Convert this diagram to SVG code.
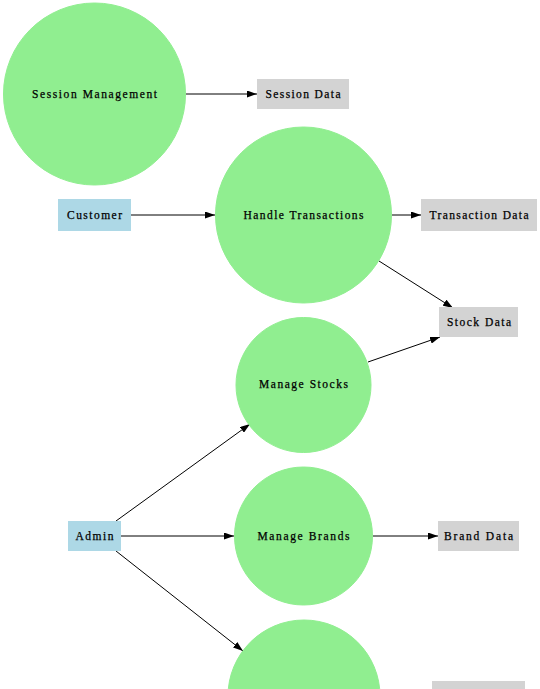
<svg xmlns="http://www.w3.org/2000/svg" width="540" height="689" viewBox="0 0 540 689">
<style>
.proc{fill:#90ee90;stroke:#90ee90}
.ent{fill:#add8e6;stroke:#add8e6}
.store{fill:#d3d3d3;stroke:#d3d3d3}
text{font-family:"Liberation Serif","Times New Roman",serif;font-size:11.5px;fill:#000;text-anchor:middle;stroke:#000;stroke-width:0.25}
.edge{stroke:#000;stroke-width:1;fill:none;marker-end:url(#ah)}
</style>
<defs>
<marker id="ah" viewBox="0 0 10 7" refX="10" refY="3.5" markerWidth="10" markerHeight="7" markerUnits="userSpaceOnUse" orient="auto">
<path d="M0,0 L10,3.5 L0,7 Z" fill="#000"/>
</marker>
</defs>
<rect width="540" height="689" fill="#fff"/>
<g id="edges">
<line class="edge" x1="186" y1="94" x2="257" y2="94"/>
<line class="edge" x1="131" y1="215" x2="215" y2="215"/>
<line class="edge" x1="392" y1="215" x2="421" y2="215"/>
<line class="edge" x1="379" y1="261" x2="453" y2="308"/>
<line class="edge" x1="368" y1="362" x2="440" y2="337"/>
<line class="edge" x1="116" y1="521" x2="250" y2="424"/>
<line class="edge" x1="121" y1="536" x2="234" y2="536"/>
<line class="edge" x1="373" y1="536" x2="438" y2="536"/>
<line class="edge" x1="116" y1="551" x2="243" y2="651"/>
</g>
<g id="session_management"><circle class="proc" cx="94.5" cy="94" r="91"/><text x="94.5" y="97.5" textLength="125" lengthAdjust="spacing">Session Management</text></g>
<g id="session_data"><rect class="store" x="257.5" y="79.5" width="91" height="29"/><text x="303" y="98" textLength="75" lengthAdjust="spacing">Session Data</text></g>
<g id="customer"><rect class="ent" x="58.5" y="199.5" width="72" height="31"/><text x="94.5" y="218.5" textLength="55" lengthAdjust="spacing">Customer</text></g>
<g id="handle_transactions"><circle class="proc" cx="303.5" cy="215" r="88"/><text x="303.5" y="218.5" textLength="120" lengthAdjust="spacing">Handle Transactions</text></g>
<g id="transaction_data"><rect class="store" x="421.5" y="199.5" width="115" height="31"/><text x="479" y="218.5" textLength="99" lengthAdjust="spacing">Transaction Data</text></g>
<g id="stock_data"><rect class="store" x="439.5" y="307.5" width="78" height="29"/><text x="479" y="325.5" textLength="64" lengthAdjust="spacing">Stock Data</text></g>
<g id="manage_stocks"><circle class="proc" cx="303.5" cy="385" r="67.5"/><text x="303.5" y="387.5" textLength="89" lengthAdjust="spacing">Manage Stocks</text></g>
<g id="admin"><rect class="ent" x="68.5" y="521.5" width="52" height="29"/><text x="94.5" y="540" textLength="38" lengthAdjust="spacing">Admin</text></g>
<g id="manage_brands"><circle class="proc" cx="303.5" cy="536" r="69"/><text x="303.5" y="540" textLength="92" lengthAdjust="spacing">Manage Brands</text></g>
<g id="brand_data"><rect class="store" x="438.5" y="521.5" width="80" height="29"/><text x="478.5" y="540" textLength="69" lengthAdjust="spacing">Brand Data</text></g>
<g id="process_bottom"><circle class="proc" cx="304" cy="696" r="76"/></g>
<g id="store_bottom"><rect class="store" x="432.5" y="681.5" width="92" height="29"/></g>
</svg>
